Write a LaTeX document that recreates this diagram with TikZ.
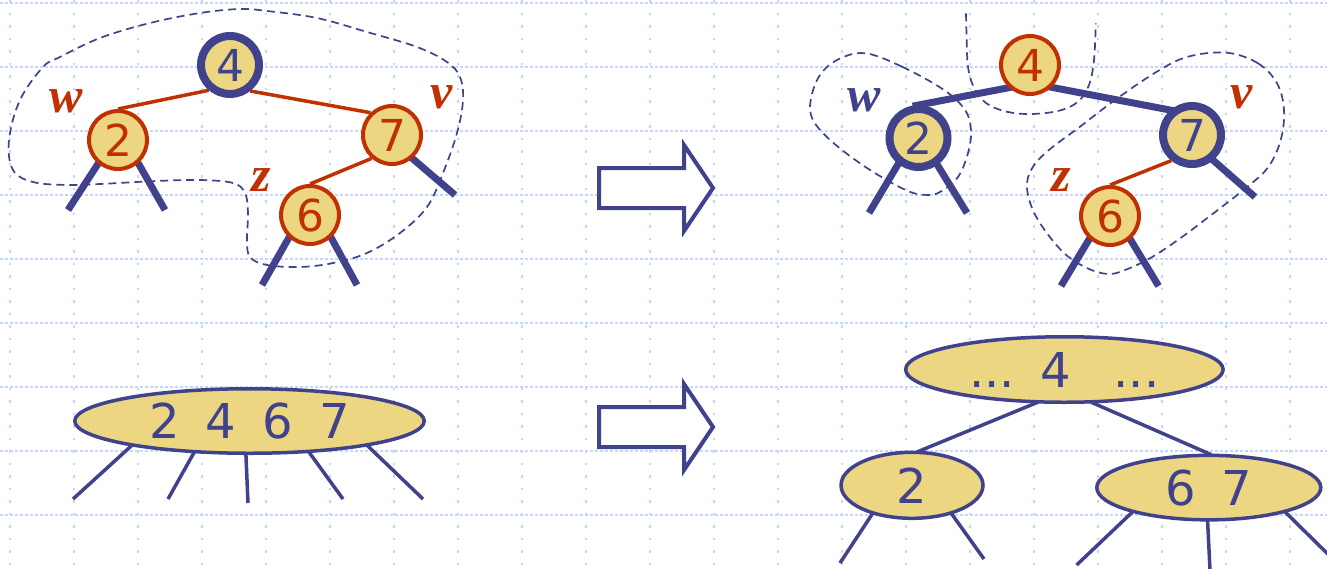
\documentclass[tikz,border=0pt]{standalone}
\usepackage{fontspec}
\newfontfamily\digitfont{DejaVu Sans}
\newfontfamily\labelfont{Liberation Serif}
\usetikzlibrary{shapes.geometric}
\definecolor{nodeyellow}{RGB}{236,214,130}
\definecolor{treeblue}{RGB}{64,66,140}
\definecolor{treered}{RGB}{192,48,0}
\definecolor{gridblue}{RGB}{198,213,250}
\pgfdeclarelayer{gridl}
\pgfdeclarelayer{edgel}
\pgfsetlayers{gridl,edgel,main}
\newcommand\dg{\hspace{26pt}}
\begin{document}
\begin{tikzpicture}[x=1pt,y=-1pt,
  rednode/.style={circle,draw=treered,fill=nodeyellow,line width=4pt,minimum size=58pt,inner sep=0pt,text=treered,font=\digitfont\fontsize{44}{44}\selectfont},
  bluenode/.style={rednode,draw=treeblue,text=treeblue,line width=8pt},
  ell/.style={ellipse,draw=treeblue,fill=nodeyellow,line width=3.5pt,inner sep=0pt,text=treeblue,font=\digitfont\fontsize{48}{48}\selectfont},
  lbl/.style={inner sep=0pt,font=\labelfont\bfseries\itshape\fontsize{50}{50}\selectfont},
  rededge/.style={draw=treered,line width=3.5pt},
  thickedge/.style={draw=treeblue,line width=7pt,shorten <=-6pt,shorten >=-6pt},
  stub/.style={draw=treeblue,line width=7pt,shorten <=-8pt},
  thinstub/.style={draw=treeblue,line width=3.5pt,shorten <=-3pt},
  blob/.style={draw=treeblue,line width=1.7pt,dash pattern=on 8pt off 5pt},
  bigarrow/.style={draw=treeblue,fill=white,line width=4pt},
  gridh/.style={draw=gridblue,line width=2pt,dash pattern=on 2.5pt off 2.5pt},
  gridv/.style={draw=gridblue,line width=2pt,dash pattern=on 2.5pt off 10pt}]
\useasboundingbox (0,0) rectangle (1327,568);
\begin{pgfonlayer}{gridl}
\foreach \gx in {0,...,20} \draw[gridv] ({10+64*\gx},0) -- ({10+64*\gx},568);
\foreach \gy in {0,...,8} \draw[gridh] (0,{3+64*\gy}) -- (1327,{3+64*\gy});
\end{pgfonlayer}

% ---------- top-left tree ----------
\node[bluenode] (a4) at (230,65) {4};
\node[rednode] (a2) at (118,140) {2};
\node[rednode] (a7) at (392,135) {7};
\node[rednode] (a6) at (310,215) {6};
\coordinate (a2l) at (68,210);
\coordinate (a2r) at (165,210);
\coordinate (a7r) at (455,195);
\coordinate (a6l) at (262,285);
\coordinate (a6r) at (357,285);
\begin{pgfonlayer}{edgel}
\draw[rededge] (a4.230) -- (a2.north);
\draw[rededge] (a4.308) -- (a7.134);
\draw[rededge] (a7.229) -- (a6.north);
\draw[stub] (a2.230) -- (a2l);
\draw[stub] (a2.311) -- (a2r);
\draw[stub] (a7.311) -- (a7r);
\draw[stub] (a6.227) -- (a6l);
\draw[stub] (a6.313) -- (a6r);
\end{pgfonlayer}
\node[lbl,text=treered] (aw) at (66,101) {w};
\node[lbl,text=treered] (av) at (442,97) {v};
\node[lbl,text=treered] (az) at (261,180) {z};
\draw[blob] plot[smooth cycle,tension=0.6] coordinates {
 (240,9) (267,11) (317,18) (367,32) (417,47) (447,62) (460,77) (463,100) (457,133)
 (443,173) (427,207) (400,233) (367,253) (333,263) (300,267) (267,265) (250,257)
 (247,240) (248,213) (245,193) (233,183) (200,180) (157,181) (100,184) (67,185)
 (33,182) (13,170) (9,140) (20,100) (43,67) (60,57) (100,38) (150,23) (200,13)};

% ---------- arrows ----------
\draw[bigarrow] (599,168) -- (684,168) -- (684,145) -- (713,188) -- (684,231) -- (684,208) -- (599,208) -- cycle;
\draw[bigarrow] (599,407) -- (684,407) -- (684,384) -- (713,427) -- (684,470) -- (684,447) -- (599,447) -- cycle;

% ---------- top-right tree ----------
\node[rednode] (b4) at (1030,65) {4};
\node[bluenode] (b2) at (918.5,138) {2};
\node[bluenode] (b7) at (1192,135) {7};
\node[rednode] (b6) at (1110,216) {6};
\coordinate (b2l) at (869,213);
\coordinate (b2r) at (967,213);
\coordinate (b7r) at (1255,197);
\coordinate (b6l) at (1061,286);
\coordinate (b6r) at (1158.6,286);
\begin{pgfonlayer}{edgel}
\draw[thickedge] (b4.227) -- (b2.north);
\draw[thickedge] (b4.314) -- (b7.131);
\draw[rededge] (b7.231) -- (b6.north);
\draw[stub] (b2.232) -- (b2l);
\draw[stub] (b2.305) -- (b2r);
\draw[stub] (b7.310) -- (b7r);
\draw[stub] (b6.228) -- (b6l);
\draw[stub] (b6.311) -- (b6r);
\end{pgfonlayer}
\node[lbl,text=treeblue] (bw) at (864.6,100.5) {w};
\node[lbl,text=treered] (bv) at (1241.6,97) {v};
\node[lbl,text=treered] (bz) at (1061,180.5) {z};
\draw[blob] plot[smooth cycle,tension=0.6] coordinates {
 (865.5,53.3) (902,66.7) (944,90) (965,110) (971,130) (968,153) (958,177)
 (940.5,191.7) (926.5,195) (905.6,190) (867,168) (832,141.7) (813,120)
 (810.7,100) (820,75) (839,59)};
\draw[blob] plot[smooth,tension=0.6] coordinates {
 (966,13.3) (966.7,40) (968,66.7) (973.6,86.7) (985.9,103) (1006.8,111.7)
 (1031,114) (1059,110.7) (1078,101.7) (1089,85) (1094,60) (1095.8,23.3)};
\draw[blob] plot[smooth cycle,tension=0.6] coordinates {
 (1226.6,52.7) (1258,63.3) (1277,83.3) (1284,110) (1280.7,140) (1268.5,166.7)
 (1247.5,186.7) (1209,216.7) (1177.8,240) (1149.9,258.3) (1125,270) (1108,274)
 (1087,268) (1062.6,251.7) (1038,220) (1027.7,193.3) (1029.5,173.3) (1045,153.3)
 (1080,126.7) (1115,100) (1156.8,71.7) (1188,56.7)};

% ---------- bottom-left node ----------
\node[ell,minimum width=349.5pt,minimum height=64.5pt] (c) at (249.5,421) {2\dg4\dg6\dg7};
\coordinate (c1) at (73,499);
\coordinate (c2) at (168,499);
\coordinate (c3) at (248,503);
\coordinate (c4) at (343,499);
\coordinate (c5) at (423,499);
\begin{pgfonlayer}{edgel}
\draw[thinstub] (c.192) -- (c1);
\draw[thinstub] (c.210) -- (c2);
\draw[thinstub] (c.264) -- (c3);
\draw[thinstub] (c.332) -- (c4);
\draw[thinstub] (c.348) -- (c5);
\end{pgfonlayer}

% ---------- bottom-right tree ----------
\node[ell,minimum width=317.5pt,minimum height=65.5pt] (d4) at (1064.4,369.5) {...\hspace{25.5pt}4\hspace{42.5pt}...};
\node[ell,minimum width=142pt,minimum height=66pt] (d2) at (912,485.3) {2};
\node[ell,minimum width=224pt,minimum height=64.5pt] (d67) at (1208.8,487.6) {6\dg7};
\coordinate (d2l) at (840,563);
\coordinate (d2r) at (984,559);
\coordinate (d6l) at (1076.6,565);
\coordinate (d6m) at (1210,570);
\coordinate (d6r) at (1340,566);
\begin{pgfonlayer}{edgel}
\draw[thinstub,shorten >=-3pt] (d4.229) -- (d2.77);
\draw[thinstub,shorten >=-3pt] (d4.311) -- (d67.north);
\draw[thinstub] (d2.216) -- (d2l);
\draw[thinstub] (d2.324) -- (d2r);
\draw[thinstub] (d67.198) -- (d6l);
\draw[thinstub] (d67.268) -- (d6m);
\draw[thinstub] (d67.342) -- (d6r);
\end{pgfonlayer}
\end{tikzpicture}
\end{document}
